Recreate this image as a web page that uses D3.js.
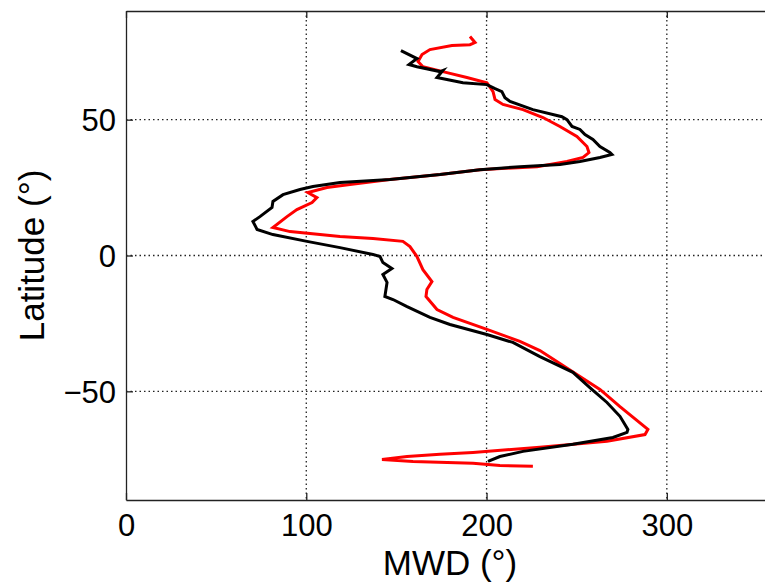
<!DOCTYPE html>
<html>
<head>
<meta charset="utf-8">
<script src="https://cdn.jsdelivr.net/npm/d3@7"></script>
<style>
  html, body { margin: 0; padding: 0; background: #fff; overflow: hidden; }
  svg { display: block; }
  text { font-family: "Liberation Sans", Arial, Helvetica, sans-serif; fill: #000; }
</style>
</head>
<body>
<svg id="chart" width="765" height="584"></svg>
<script>
// Mean wave direction (degrees) against latitude, two estimates
const blackMWD = [152.5,161.4,157.0,161.4,174.2,175.8,172.5,186.9,200.2,204.7,208.5,210.2,213.0,225.7,241.8,244.6,247.4,251.8,254.6,259.0,262.9,268.4,269.5,262.9,251.8,240.7,218.5,196.3,174.2,146.4,118.7,103.7,96.5,87.1,81.5,81.0,74.3,70.4,72.7,81.5,100.4,118.7,137.0,140.9,142.5,147.5,142.5,144.8,143.6,148.1,155.9,168.6,179.7,200.2,214.6,229.6,247.9,257.3,266.8,274.0,278.4,277.9,270.1,247.9,220.2,207.4,200.8];
const blackLat = [75.4,72.5,70.3,69.5,67.7,68.1,65.5,63.6,62.9,61.4,60.3,58.1,56.7,53.7,51.1,50.0,47.5,46.4,44.5,42.7,40.1,37.9,37.2,36.1,34.6,33.5,32.7,31.6,29.8,28.0,26.9,25.4,24.3,22.4,19.9,17.7,14.3,12.5,9.6,7.7,5.2,2.9,0.4,-0.4,-2.6,-4.8,-7.0,-9.9,-15.1,-16.2,-18.8,-22.8,-25.4,-29.1,-32.0,-37.2,-43.0,-48.6,-54.1,-59.2,-64.0,-65.1,-67.0,-69.5,-72.1,-74.0,-75.8];

const redMWD = [190.8,193.6,190.8,180.8,168.6,164.2,162.0,164.7,178.0,189.1,200.2,203.6,204.7,209.1,220.2,231.3,240.7,250.1,255.7,256.8,253.5,244.6,228.0,196.3,174.2,146.4,124.2,111.5,100.9,105.9,103.2,94.8,89.3,81.5,91.0,118.7,137.0,153.6,157.5,161.4,164.7,169.7,166.9,166.4,172.5,181.4,200.2,218.5,229.6,251.8,262.9,274.0,289.5,287.9,266.8,229.6,192.5,174.2,155.9,142.0,159.2,192.5,207.4,225.7];
const redLat = [80.6,78.4,77.6,77.3,75.8,74.0,71.4,69.5,67.3,65.5,63.6,60.3,57.4,55.6,53.7,50.8,47.5,43.8,40.1,37.9,36.1,34.6,32.7,31.6,29.8,28.0,26.1,25.0,23.2,21.3,19.5,16.9,14.3,10.3,8.8,7.0,6.3,5.2,3.3,-0.4,-5.2,-9.6,-12.5,-15.1,-19.9,-22.8,-27.2,-31.6,-35.0,-44.5,-49.3,-55.6,-64.0,-65.9,-68.4,-70.6,-72.5,-73.2,-74.0,-75.1,-75.8,-76.5,-77.3,-77.6];

const xTicks = [0, 100, 200, 300];
const yTicks = [-50, 0, 50];
const xLabel = "MWD (°)";
const yLabel = "Latitude (°)";

const margin = { left: 126, top: 11, right: -10, bottom: 84 };
const W = 765, H = 584;
const x0 = margin.left, x1 = W - margin.right;   // right edge falls beyond the window
const y0 = margin.top, y1 = H - margin.bottom;

const x = d3.scaleLinear().domain([0, 360]).range([x0, x1]);
const y = d3.scaleLinear().domain([-90, 90]).range([y1, y0]);

const svg = d3.select("#chart");

// dotted grid
const grid = svg.append("g").attr("stroke", "#222").attr("stroke-width", 1.3)
  .attr("stroke-dasharray", "1.5,3").attr("fill", "none");
grid.selectAll(".gx").data(xTicks.filter(d => d !== 0)).join("line")
  .attr("x1", d => x(d)).attr("x2", d => x(d)).attr("y1", y0).attr("y2", y1);
grid.selectAll(".gy").data(yTicks).join("line")
  .attr("y1", d => y(d)).attr("y2", d => y(d)).attr("x1", x0).attr("x2", x1);

// series
const line = d3.line().x(d => x(d[0])).y(d => y(d[1]));
const redPts = d3.zip(redMWD, redLat);
const blackPts = d3.zip(blackMWD, blackLat);
svg.append("path").datum(redPts).attr("d", line)
  .attr("fill", "none").attr("stroke", "#ff0000").attr("stroke-width", 3)
  .attr("stroke-linejoin", "miter");
svg.append("path").datum(blackPts).attr("d", line)
  .attr("fill", "none").attr("stroke", "#000").attr("stroke-width", 3)
  .attr("stroke-linejoin", "miter");

// axes with inward ticks
const tickLen = 7;
const fontSize = 31;
const titleSize = 35;
const axB = svg.append("g").attr("transform", `translate(0,${y1})`)
  .call(d3.axisBottom(x).tickValues(xTicks).tickSizeInner(-tickLen).tickSizeOuter(0).tickPadding(14));
const axT = svg.append("g").attr("transform", `translate(0,${y0})`)
  .call(d3.axisTop(x).tickValues(xTicks).tickSizeInner(-tickLen).tickSizeOuter(0).tickFormat(""));
const axL = svg.append("g").attr("transform", `translate(${x0},0)`)
  .call(d3.axisLeft(y).tickValues(yTicks).tickSizeInner(-tickLen).tickSizeOuter(0).tickPadding(10)
    .tickFormat(d => d < 0 ? "\u2212" + Math.abs(d) : d));
[axB, axT, axL].forEach(g => {
  g.select(".domain").attr("stroke", "#222").attr("stroke-width", 1.3);
  g.selectAll(".tick line").attr("stroke", "#222").attr("stroke-width", 1.3);
  g.selectAll(".tick text").attr("font-size", fontSize)
    .attr("font-family", "'Liberation Sans', Arial, sans-serif").attr("fill", "#000");
});
axL.selectAll(".tick text").attr("dy", "0.36em");

// axis titles
svg.append("text").attr("x", 450).attr("y", 575).attr("text-anchor", "middle")
  .attr("font-size", titleSize).text(xLabel);
svg.append("text").attr("transform", `translate(44,${(y0 + y1) / 2}) rotate(-90)`)
  .attr("text-anchor", "middle").attr("font-size", titleSize).text(yLabel);
</script>
</body>
</html>
